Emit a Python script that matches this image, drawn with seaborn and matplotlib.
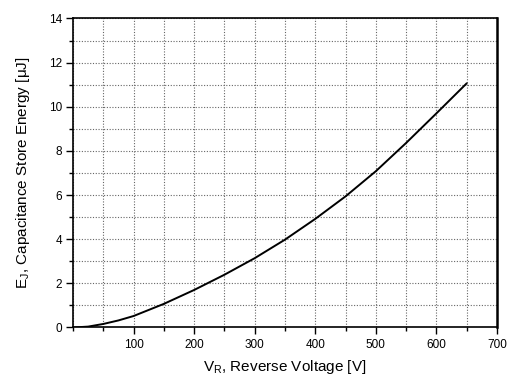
import matplotlib
matplotlib.use("Agg")
import matplotlib.pyplot as plt
import seaborn as sns
import pandas as pd
from matplotlib.ticker import MultipleLocator

# values
voltage = [0, 25, 50, 75, 100, 150, 200, 250, 300, 350, 400, 450, 500, 550, 600, 650]
energy = [0, 0.04, 0.16, 0.32, 0.52, 1.07, 1.70, 2.39, 3.14, 3.98, 4.92, 5.94, 7.08, 8.36, 9.70, 11.06]

x_ticks = [100, 200, 300, 400, 500, 600, 700]
y_ticks = [0, 2, 4, 6, 8, 10, 12, 14]

df = pd.DataFrame({"V": voltage, "E": energy})

sns.set_style("white")
plt.rcParams["font.family"] = ["Liberation Sans", "DejaVu Sans"]
plt.rcParams["mathtext.fontset"] = "custom"
plt.rcParams["mathtext.rm"] = "Liberation Sans"
plt.rcParams["text.color"] = "black"
plt.rcParams["axes.labelcolor"] = "black"
plt.rcParams["xtick.color"] = "black"
plt.rcParams["ytick.color"] = "black"

fig = plt.figure(figsize=(5.09, 3.76), dpi=100)
ax = fig.add_axes([0.1434, 0.129, 0.833, 0.822])

sns.lineplot(data=df, x="V", y="E", ax=ax, color="black", linewidth=1.4)

ax.set_xlim(0, 700)
ax.set_ylim(0, 14)
ax.set_xticks(x_ticks)
ax.set_yticks(y_ticks)
ax.xaxis.set_minor_locator(MultipleLocator(50))
ax.yaxis.set_minor_locator(MultipleLocator(1))

ax.grid(True, which="both", linestyle=(0, (1, 1.5)), color="#666666", linewidth=0.8)
ax.set_axisbelow(True)

ax.tick_params(axis="both", which="major", direction="out", length=5, width=1,
               labelsize=8.5, bottom=True, left=True, top=False, right=False, pad=3)
ax.tick_params(axis="both", which="minor", direction="out", length=3, width=1,
               bottom=True, left=True, top=False, right=False)

for side in ["left", "bottom", "top"]:
    ax.spines[side].set_color("black")
    ax.spines[side].set_linewidth(1.2)
ax.spines["right"].set_color("black")
ax.spines["right"].set_linewidth(1.8)

ax.set_xlabel(r"V$_\mathrm{R}$, Reverse Voltage [V]", fontsize=11, labelpad=5)
ax.set_ylabel(r"E$_\mathrm{J}$, Capacitance Store Energy [μJ]", fontsize=11, labelpad=12)

fig.savefig("out.png", dpi=100)
